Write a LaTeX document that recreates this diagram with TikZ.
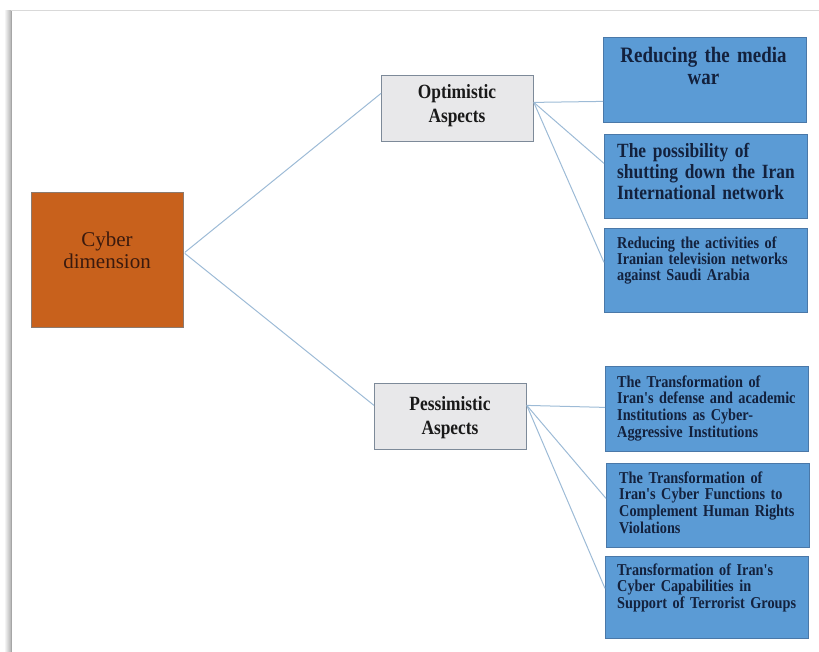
\documentclass[tikz,border=0pt]{standalone}
\usepackage{fontspec}
\setmainfont{Liberation Serif}
\newfontfamily\narrowserif{Liberation Serif}[FakeStretch=0.86]
\usetikzlibrary{calc}

\definecolor{leafblue}{HTML}{5B9BD5}
\definecolor{leafedge}{HTML}{4A78A8}
\definecolor{leafink}{HTML}{13213D}
\definecolor{aspectgray}{HTML}{E8E8EA}
\definecolor{aspectedge}{HTML}{7D8A99}
\definecolor{rootorange}{HTML}{C8611C}
\definecolor{rootedge}{HTML}{8C7A6E}
\definecolor{rootink}{HTML}{3A1A0E}
\definecolor{linkblue}{HTML}{9DBBD6}
\definecolor{framegray}{HTML}{D9D9D9}

\tikzset{
  link/.style={draw=linkblue, line width=1pt},
  leafbox/.style={draw=leafedge, fill=leafblue, line width=0.8pt,
    minimum width=203pt, minimum height=84pt, anchor=north west, inner sep=0pt},
  aspectbox/.style={draw=aspectedge, fill=aspectgray, line width=0.8pt,
    minimum width=152pt, minimum height=66pt, anchor=north west, inner sep=0pt},
  leaftext/.style={anchor=base west, align=left, text width=195pt, inner sep=0pt,
    text=leafink, font={\narrowserif\bfseries\fontsize{16.6pt}{16.7pt}\selectfont}},
  aspecttext/.style={anchor=base, align=center, text width=150pt, inner sep=0pt,
    text=black!90, font={\narrowserif\bfseries\fontsize{20.2pt}{24pt}\selectfont}},
}

\begin{document}
\begin{tikzpicture}[x=1pt, y=-1pt]
  \useasboundingbox (0,0) rectangle (819,652);

  % page frame with its soft left shadow
  \shade[left color=white, right color=black!30] (4,11) rectangle (11,652);
  \draw[black!35, line width=1pt] (11.5,11) -- (11.5,652);
  \draw[framegray, line width=1pt] (11,11) -- (819,11);

  % root
  \node[draw=rootedge, fill=rootorange, line width=0.8pt, minimum width=152pt,
        minimum height=135pt, anchor=north west, inner sep=0pt] (cy) at (31,192) {};
  \node[anchor=base, align=center, text width=150pt, inner sep=0pt, text=rootink,
        font={\fontsize{21pt}{22pt}\selectfont}] (cytext) at (107,247) {Cyber\\dimension};

  % second level
  \node[aspectbox] (opt) at (381,75) {};
  \node[aspecttext] (opttext) at (457,99) {Optimistic\\Aspects};
  \node[aspectbox] (pes) at (374,383) {};
  \node[aspecttext] (pestext) at (450,410) {Pessimistic\\Aspects};

  % optimistic leaves
  \node[leafbox, minimum height=85pt] (b1) at (603,37) {};
  \node[anchor=base, align=center, text width=200pt, inner sep=0pt, text=leafink,
        font={\narrowserif\bfseries\fontsize{22pt}{22pt}\selectfont}] (b1text) at (703.5,63)
        {Reducing the media\\war};
  \node[leafbox] (b2) at (604,134) {};
  \node[leaftext, font={\narrowserif\bfseries\fontsize{20.2pt}{21pt}\selectfont}] (b2text) at (617,158)
        {The possibility of\\shutting down the Iran\\International network};
  \node[leafbox] (b3) at (604,228) {};
  \node[leaftext, font={\narrowserif\bfseries\fontsize{16.6pt}{15.7pt}\selectfont}] (b3text) at (617,249)
        {Reducing the activities of\\Iranian television networks\\against Saudi Arabia};

  % pessimistic leaves
  \node[leafbox, minimum height=85pt] (b4) at (605,366) {};
  \node[leaftext] (b4text) at (617,387)
        {The Transformation of\\Iran's defense and academic\\Institutions as Cyber-\\Aggressive Institutions};
  \node[leafbox] (b5) at (606,463) {};
  \node[leaftext] (b5text) at (619,483)
        {The Transformation of\\Iran's Cyber Functions to\\Complement Human Rights\\Violations};
  \node[leafbox, minimum height=82pt] (b6) at (605,556) {};
  \node[leaftext] (b6text) at (617,575)
        {Transformation of Iran's\\Cyber Capabilities in\\Support of Terrorist Groups};

  % connector ends
  \coordinate (cyup)  at ($(cy.east)+(1,-7.5)$);
  \coordinate (cydn)  at ($(cy.east)+(1,-6.5)$);
  \coordinate (optin) at ($(opt.west)+(0,-15)$);
  \coordinate (pesin) at ($(pes.west)+(0,-11)$);
  \coordinate (optout) at ($(opt.east)+(0,-6)$);
  \coordinate (pesout) at ($(pes.east)+(0,-11)$);
  \coordinate (b1in) at ($(b1.west)+(0,21.5)$);
  \coordinate (b2in) at ($(b2.west)+(0,-13)$);
  \coordinate (b3in) at ($(b3.west)+(0,-8)$);
  \coordinate (b4in) at ($(b4.west)+(0,-1.5)$);
  \coordinate (b5in) at ($(b5.west)+(0,-7)$);
  \coordinate (b6in) at ($(b6.west)+(0,-9)$);

  % connectors
  \draw[link] (cyup) -- (optin);
  \draw[link] (cydn) -- (pesin);
  \draw[link] (optout) -- (b1in);
  \draw[link] (optout) -- (b2in);
  \draw[link] (optout) -- (b3in);
  \draw[link] (pesout) -- (b4in);
  \draw[link] (pesout) -- (b5in);
  \draw[link] (pesout) -- (b6in);
\end{tikzpicture}
\end{document}
